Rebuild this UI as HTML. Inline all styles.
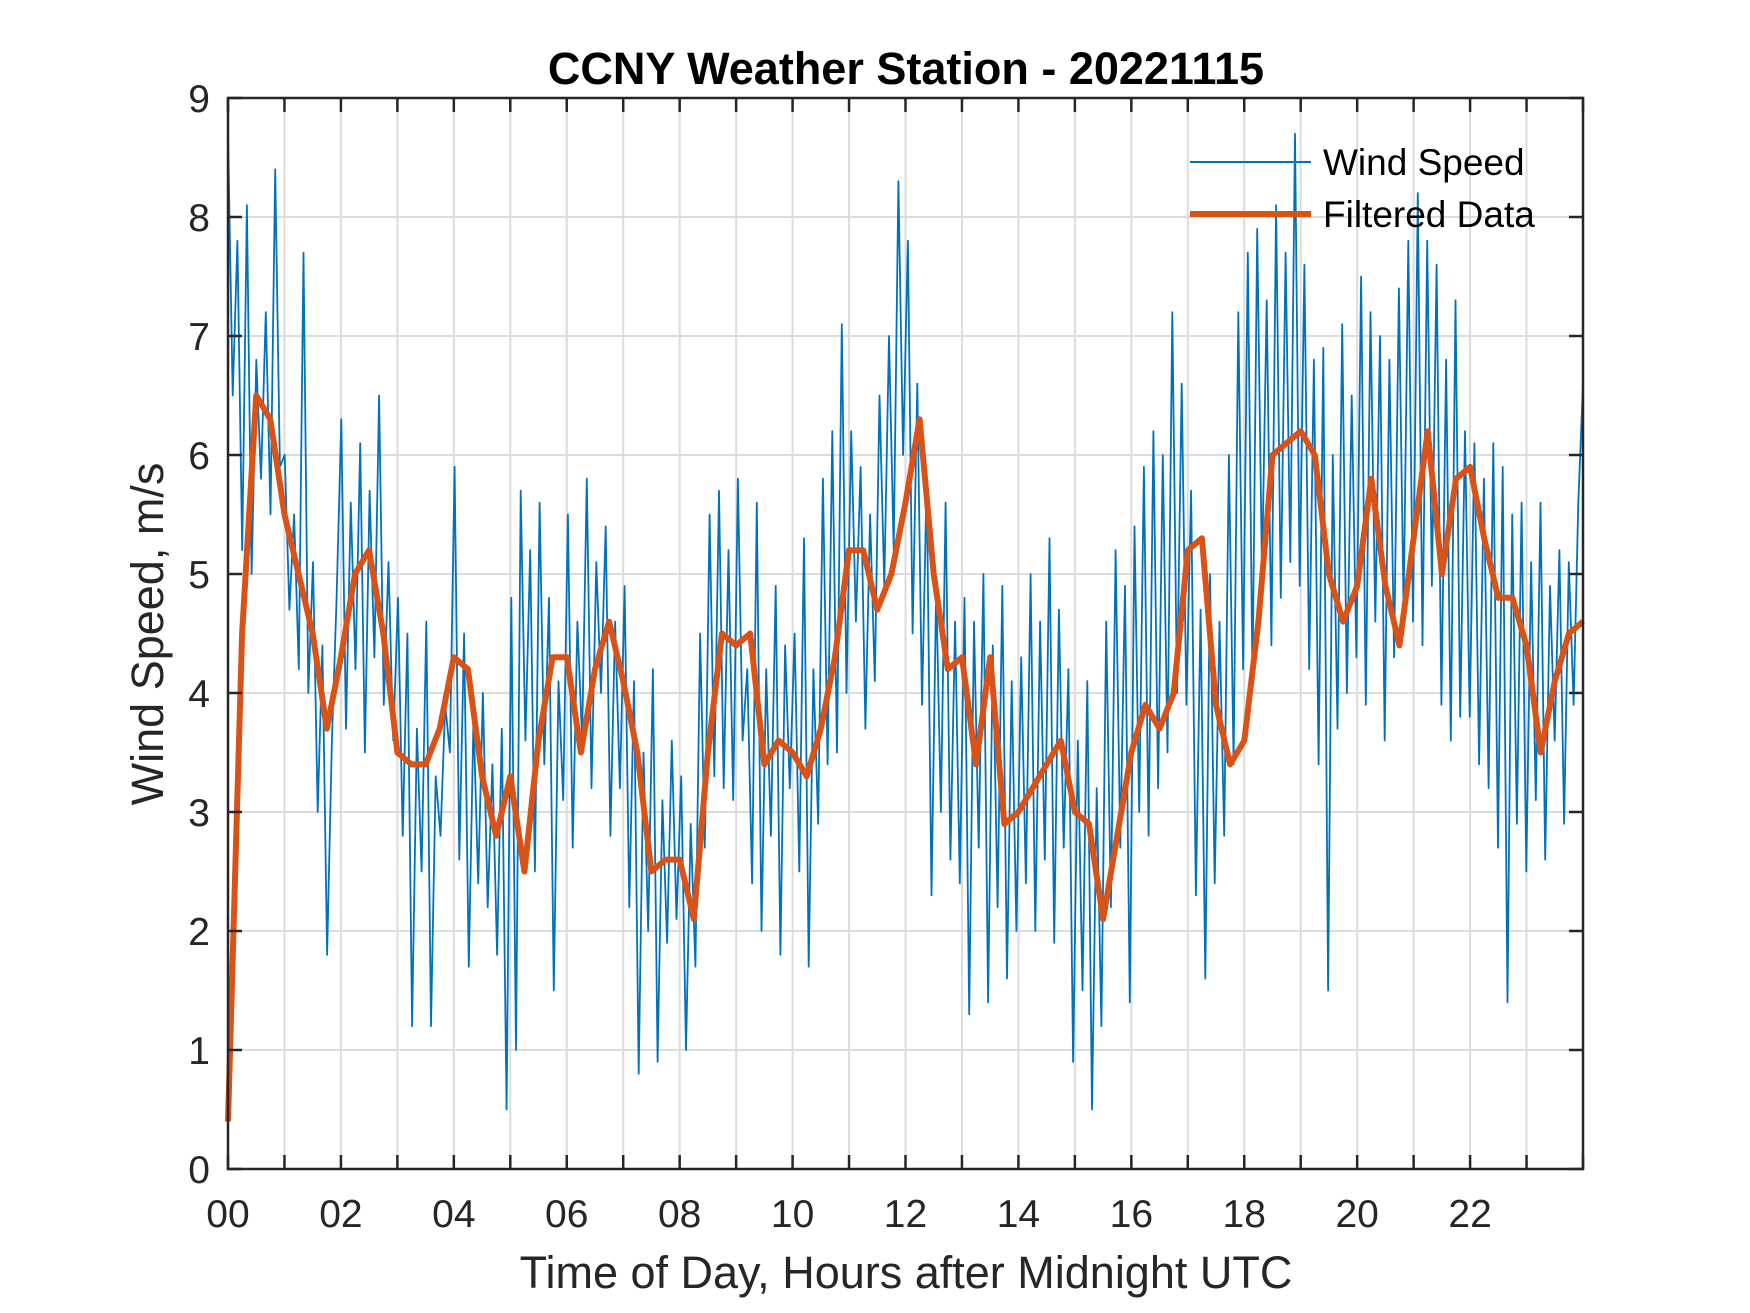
<!DOCTYPE html>
<html><head><meta charset="utf-8"><style>
html,body{margin:0;padding:0;background:#fff}
svg{display:block;font-family:"Liberation Sans",Arial,sans-serif}
</style></head><body>
<svg id="chart" width="1750" height="1313" viewBox="0 0 1750 1313" xmlns="http://www.w3.org/2000/svg">
<rect width="1750" height="1313" fill="#fff"/>
<text x="906" y="84" text-anchor="middle" font-size="45" font-weight="bold" fill="#000">CCNY Weather Station - 20221115</text>
<g id="grid"></g>
<g id="series"></g>
<g id="axes"></g>
<text transform="translate(163,634) rotate(-90)" text-anchor="middle" font-size="45" fill="#262626">Wind Speed, m/s</text>
<text x="906" y="1288" text-anchor="middle" font-size="45" fill="#262626">Time of Day, Hours after Midnight UTC</text>
<g>
<line x1="1190" y1="162" x2="1311" y2="162" stroke="#0072BD" stroke-width="2"/>
<text x="1323" y="175" font-size="37" fill="#000">Wind Speed</text>
<line x1="1190" y1="214" x2="1311" y2="214" stroke="#D95319" stroke-width="6"/>
<text x="1323" y="227" font-size="37" fill="#000">Filtered Data</text>
</g>
</svg>
<script>
const rawSpeed = [
8.7,6.5,7.8,5.2,8.1,5.0,6.8,5.8,7.2,5.5,8.4,5.9,
6.0,4.7,5.5,4.2,7.7,4.0,5.1,3.0,4.4,1.8,3.6,4.8,
6.3,3.7,5.6,4.2,6.1,3.5,5.7,4.3,6.5,3.9,5.1,3.6,
4.8,2.8,4.5,1.2,3.7,2.5,4.6,1.2,3.3,2.8,3.9,3.5,
5.9,2.6,4.5,1.7,3.8,2.4,4.0,2.2,3.4,1.8,3.7,0.5,
4.8,1.0,5.7,3.6,5.2,2.5,5.6,3.4,4.8,1.5,4.1,3.1,
5.5,2.7,4.6,3.6,5.8,3.2,5.1,4.0,5.4,2.8,4.6,3.2,
4.9,2.2,4.1,0.8,3.5,2.0,4.2,0.9,3.1,1.9,3.6,2.1,
3.3,1.0,2.9,1.7,4.5,2.7,5.5,3.3,5.7,3.2,5.2,3.1,
5.8,3.6,4.2,2.4,5.6,2.0,4.2,2.8,4.9,1.8,4.4,3.2,
4.5,2.5,5.3,1.7,4.2,2.9,5.8,3.4,6.2,3.5,7.1,4.0,
6.2,4.6,5.9,3.7,5.5,4.1,6.5,4.9,7.0,5.2,8.3,6.0,
7.8,4.5,6.6,3.9,5.8,2.3,4.9,3.0,5.6,2.6,4.6,2.4,
4.8,1.3,4.6,2.7,5.0,1.4,4.4,2.2,4.9,1.6,4.1,2.0,
4.3,2.4,5.0,2.0,4.6,2.6,5.3,1.9,4.7,2.7,4.2,0.9,
3.6,1.5,4.1,0.5,3.2,1.2,4.6,2.2,5.2,2.7,4.9,1.4,
5.4,3.0,5.9,2.8,6.2,3.2,6.0,3.5,7.2,4.0,6.6,3.9,
5.7,2.3,4.7,1.6,5.0,2.4,4.6,2.8,6.0,3.4,7.2,4.2,
7.7,4.1,7.9,5.0,7.3,4.4,8.1,4.8,7.7,5.1,8.7,4.9,
7.6,4.2,6.8,3.4,6.9,1.5,6.0,3.7,7.1,4.0,6.5,4.3,
7.5,3.9,7.2,4.6,7.0,3.6,6.8,4.3,7.4,4.7,7.8,4.6,
8.2,4.4,7.8,4.9,7.6,3.9,6.8,3.6,7.3,3.8,6.2,3.8,
6.1,3.4,5.8,3.2,6.1,2.7,5.9,1.4,5.5,2.9,5.6,2.5,
5.1,3.1,5.6,2.6,4.9,3.6,5.2,2.9,5.1,3.9,5.6,6.6];
const filteredSpeed = [
0.4,4.5,6.5,6.3,5.5,5.0,4.5,3.7,4.3,5.0,5.2,4.5,
3.5,3.4,3.4,3.7,4.3,4.2,3.3,2.8,3.3,2.5,3.6,4.3,
4.3,3.5,4.2,4.6,4.1,3.5,2.5,2.6,2.6,2.1,3.5,4.5,
4.4,4.5,3.4,3.6,3.5,3.3,3.7,4.3,5.2,5.2,4.7,5.0,
5.6,6.3,5.0,4.2,4.3,3.4,4.3,2.9,3.0,3.2,3.4,3.6,
3.0,2.9,2.1,2.8,3.5,3.9,3.7,4.0,5.2,5.3,3.9,3.4,
3.6,4.6,6.0,6.1,6.2,6.0,5.0,4.6,4.9,5.8,4.9,4.4,
5.3,6.2,5.0,5.8,5.9,5.3,4.8,4.8,4.4,3.5,4.1,4.5,4.6];
const xTickLabels = ["00","02","04","06","08","10","12","14","16","18","20","22"];
const yTickLabels = ["0","1","2","3","4","5","6","7","8","9"];

const L=228,R=1583,T=98,B=1169,NS="http://www.w3.org/2000/svg";
const xScale=h=>L+h/24*(R-L);
const yScale=v=>B-v/9*(B-T);
function mk(tag,attrs,parent){const e=document.createElementNS(NS,tag);for(const k in attrs)e.setAttribute(k,attrs[k]);parent.appendChild(e);return e;}
const grid=document.getElementById('grid'),axes=document.getElementById('axes'),series=document.getElementById('series');
for(let h=1;h<24;h++){
  const gl=mk('line',{x1:xScale(h),x2:xScale(h),y1:T,y2:B,stroke:'#dcdcdc','stroke-width':2},grid);
  
  
}
for(let v=1;v<9;v++){
  const gl=mk('line',{x1:L,x2:R,y1:yScale(v),y2:yScale(v),stroke:'#dcdcdc','stroke-width':2},grid);
  
  
}
let d='';rawSpeed.forEach((v,i)=>{d+=(i?'L':'M')+xScale(i*24/(rawSpeed.length-1)).toFixed(1)+','+yScale(v).toFixed(1);});
const raw=mk('path',{d:d,fill:'none',stroke:'#0072BD','stroke-width':1.8,'stroke-linejoin':'round'},series);


d='';filteredSpeed.forEach((v,i)=>{d+=(i?'L':'M')+xScale(i*24/(filteredSpeed.length-1)).toFixed(1)+','+yScale(v).toFixed(1);});
const filt=mk('path',{d:d,fill:'none',stroke:'#D95319','stroke-width':6,'stroke-linejoin':'round'},series);


const box=mk('rect',{x:L,y:T,width:R-L,height:B-T,fill:'none',stroke:'#262626','stroke-width':2.5},axes);


for(let h=0;h<=24;h++){
  const x=xScale(h);
  mk('line',{x1:x,x2:x,y1:B,y2:B-14,stroke:'#262626','stroke-width':2.5},axes);
  mk('line',{x1:x,x2:x,y1:T,y2:T+14,stroke:'#262626','stroke-width':2.5},axes);
}
xTickLabels.forEach((s,i)=>{
  const t=mk('text',{x:xScale(i*2),y:1227,'text-anchor':'middle','font-size':39,fill:'#262626'},axes);
  t.textContent=s;
  
  
});
yTickLabels.forEach((s,i)=>{
  const y=yScale(i);
  mk('line',{x1:L,x2:L+14,y1:y,y2:y,stroke:'#262626','stroke-width':2.5},axes);
  mk('line',{x1:R,x2:R-14,y1:y,y2:y,stroke:'#262626','stroke-width':2.5},axes);
  const t=mk('text',{x:210,y:y+14,'text-anchor':'end','font-size':39,fill:'#262626'},axes);
  t.textContent=s;
  
  
});
</script>
</body></html>
